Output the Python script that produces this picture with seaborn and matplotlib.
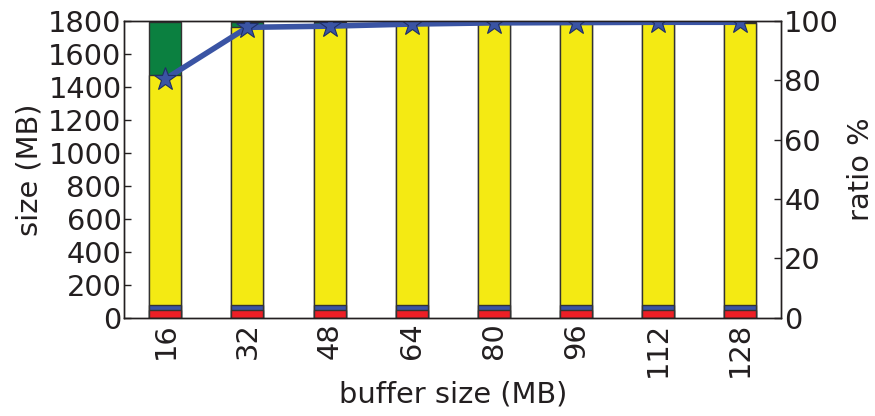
import numpy as np
import pandas as pd
import matplotlib
matplotlib.use("Agg")
import matplotlib.pyplot as plt
import seaborn as sns

# Buffer sizes (MB) and the size breakdown of each run (MB)
buffer_sizes = ["16", "32", "48", "64", "80", "96", "112", "128"]
red_part = [50, 50, 50, 50, 50, 50, 50, 50]
blue_part = [30, 30, 30, 30, 30, 30, 30, 30]
yellow_part = [1391, 1684, 1700, 1706, 1708, 1708, 1708, 1708]
green_part = [319, 26, 10, 4, 2, 2, 2, 2]
# Ratio (%) per buffer size
ratio = [80.4, 97.8, 98.2, 98.9, 99.3, 99.4, 99.5, 99.5]

colors = {
    "red": "#ee1f26",
    "blue": "#3a54a4",
    "yellow": "#f4ea13",
    "green": "#0b8040",
}

FS = 20.8

sns.set_style("white")
plt.rcParams["font.family"] = ["DejaVu Sans"]
plt.rcParams["font.size"] = FS
plt.rcParams["text.color"] = "#231f20"
plt.rcParams["axes.labelcolor"] = "#231f20"
plt.rcParams["xtick.color"] = "#231f20"
plt.rcParams["ytick.color"] = "#231f20"

fig = plt.figure(figsize=(8.75, 4.16), dpi=100)
ax = fig.add_axes([0.142, 0.236, 0.751, 0.714])

# Stacked bars: draw cumulative heights from the tallest layer down
parts = np.array([red_part, blue_part, yellow_part, green_part], dtype=float)
cums = np.cumsum(parts, axis=0)  # red, red+blue, red+blue+yellow, total
cum_by_name = {"red": cums[0], "blue": cums[1], "yellow": cums[2], "green": cums[3]}

for name in ["green", "yellow", "blue", "red"]:
    df = pd.DataFrame({"buffer": buffer_sizes, "size": cum_by_name[name]})
    sns.barplot(data=df, x="buffer", y="size", order=buffer_sizes, ax=ax,
                color=colors[name], width=0.39, saturation=1,
                edgecolor="#333333", linewidth=1.0, errorbar=None)

ax.set_ylim(0, 1800)
ax.set_xlim(-0.5, len(buffer_sizes) - 0.5)
ax.set_yticks(np.arange(0, 1801, 200))
ax.set_xlabel("buffer size (MB)", fontsize=FS, labelpad=2)
ax.set_ylabel("size (MB)", fontsize=FS, labelpad=3)
ax.tick_params(axis="x", direction="in", length=5, width=1, top=True,
               bottom=True, labelsize=FS, rotation=90, pad=3)
ax.tick_params(axis="y", direction="in", length=5, width=1, left=True,
               right=False, labelsize=FS, pad=2)
for s in ax.spines.values():
    s.set_color("#231f20")
    s.set_linewidth(1.0)

# Ratio line on the secondary axis
ax2 = ax.twinx()
rdf = pd.DataFrame({"buffer": buffer_sizes, "ratio": ratio})
sns.pointplot(data=rdf, x="buffer", y="ratio", order=buffer_sizes, ax=ax2,
              color=colors["blue"], markers="*", markersize=17, linewidth=4,
              errorbar=None, markeredgecolor="#1f2f66", markeredgewidth=0.8)
ax2.set_xlim(-0.5, len(buffer_sizes) - 0.5)
ax2.set_ylim(0, 100)
ax2.set_yticks(np.arange(0, 101, 20))
ax2.set_ylabel("ratio %", fontsize=FS, labelpad=6)
ax2.set_xlabel("")
ax2.tick_params(axis="y", direction="in", length=5, width=1, right=True,
                left=False, labelsize=FS, pad=2)
ax2.tick_params(axis="x", top=False, bottom=False)
for s in ax2.spines.values():
    s.set_color("#231f20")
    s.set_linewidth(1.0)

fig.savefig("out.png", dpi=100)
